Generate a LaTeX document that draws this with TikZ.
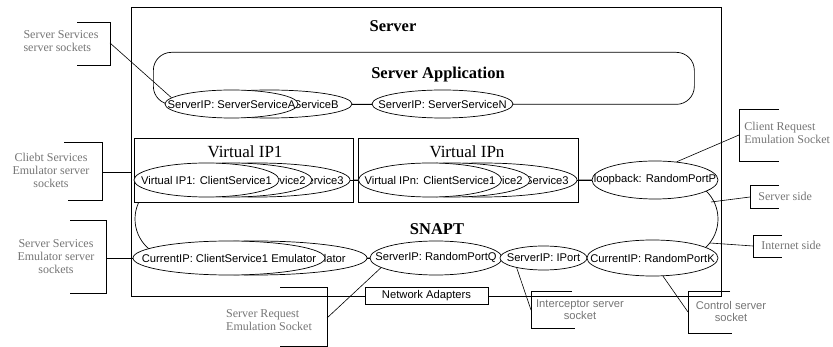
\documentclass[tikz,border=0pt]{standalone}
\usepackage{fontspec}
\setmainfont{Liberation Serif}
\setsansfont{Liberation Sans}
\usetikzlibrary{shapes.geometric,shapes.misc}
\definecolor{annot}{RGB}{118,118,118}
\begin{document}
\begin{tikzpicture}[x=1pt,y=-1pt, line width=0.7pt,
  sock/.style={draw, ellipse, fill=white, inner sep=0pt, minimum height=34pt},
  stxt/.style={font=\sffamily\fontsize{11.2}{13}\selectfont, inner sep=0pt},
  boldtitle/.style={font=\bfseries\fontsize{16.5}{18}\selectfont, inner sep=0pt},
  vtitle/.style={font=\fontsize{17}{19}\selectfont, inner sep=0pt},
  note/.style={text=annot, font=\fontsize{12}{13}\selectfont, inner sep=0pt},
  snote/.style={text=annot, font=\sffamily\fontsize{11.2}{12}\selectfont, inner sep=0pt, align=center},
  bracketline/.style={draw, line width=0.7pt},
  link/.style={draw, line width=0.6pt}]

\useasboundingbox (0,0) rectangle (833,347);
\fill[white] (0,0) rectangle (833,347);

% outer server frame
\node[draw, rectangle, inner sep=0pt, minimum width=590pt, minimum height=289pt, anchor=north west] (server) at (131,7) {};
\node[boldtitle] (servertitle) at (393,26) {Server};

% server application container
\node[draw, rectangle, rounded corners=18pt, inner sep=0pt, minimum width=541pt, minimum height=52pt, anchor=north west] (app) at (153,52) {};
\node[boldtitle] (apptitle) at (438,75) {Server Application};

% SNAPT container
\node[draw, rounded rectangle, inner sep=0pt, minimum width=583pt, minimum height=78pt] (snapt) at (426.5,219) {};
\node[boldtitle] (snapttitle) at (437,229) {SNAPT};

% virtual IP containers
\node[draw, fill=white, rectangle, inner sep=0pt, minimum width=219pt, minimum height=64pt, anchor=north west] (vip1) at (134,138) {};
\node[vtitle] (vip1title) at (245,152) {Virtual IP1};
\node[draw, fill=white, rectangle, inner sep=0pt, minimum width=220pt, minimum height=64pt, anchor=north west] (vipn) at (358,138) {};
\node[vtitle] (vipntitle) at (467,152) {Virtual IPn};

% server service sockets
\node[sock, minimum width=165pt, minimum height=28pt] (srvB) at (269.5,104) {};
\node[stxt, anchor=east] at (339,104) {ServerIP: ServerServiceB};
\node[sock, minimum width=133pt, minimum height=28pt] (srvA) at (231.5,104) {};
\node[stxt] at (srvA) {ServerIP: ServerServiceA};
\node[sock, minimum width=141pt, minimum height=28pt] (srvN) at (442.5,104) {};
\node[stxt] at (srvN) {ServerIP: ServerServiceN};

% client service emulators on Virtual IP1
\node[sock, minimum width=185pt] (v1c3) at (257.5,180) {};
\node[stxt, anchor=east] at (344,180) {Virtual IP1: ClientService3};
\node[sock, minimum width=162pt] (v1c2) at (231,180) {};
\node[stxt, anchor=east] at (306,180) {Virtual IP1: ClientService2};
\node[sock, minimum width=145pt] (v1c1) at (206.5,180) {};
\node[stxt] at (v1c1) {Virtual IP1: ClientService1};

% client service emulators on Virtual IPn
\node[sock, minimum width=190pt] (vnc3) at (482,180) {};
\node[stxt, anchor=east] at (569,180) {Virtual IPn: ClientService3};
\node[sock, minimum width=156pt] (vnc2) at (452,180) {};
\node[stxt, anchor=east] at (523,180) {Virtual IPn: ClientService2};
\node[sock, minimum width=143pt] (vnc1) at (430,180) {};
\node[stxt] at (vnc1) {Virtual IPn: ClientService1};

% loopback client request socket
\node[sock, minimum width=126pt, minimum height=38pt] (loop) at (655,180) {};
\node[stxt] at (loop) {loopback: RandomPortP};

% server service emulators and SNAPT sockets
\node[sock, minimum width=222pt] (emu2) at (256,258) {};
\node[stxt, anchor=east] at (346,258) {CurrentIP: ClientService2 Emulator};
\node[sock, minimum width=192pt] (emu1) at (229,258) {};
\node[stxt] at (emu1) {CurrentIP: ClientService1 Emulator};
\node[sock, minimum width=132pt] (portQ) at (436,258) {};
\node[stxt] at (portQ) {ServerIP: RandomPortQ};
\node[sock, minimum width=87pt, minimum height=24pt] (iport) at (543.5,258) {};
\node[stxt] at (iport) {ServerIP: IPort};
\node[sock, minimum width=131pt, minimum height=36pt] (portK) at (652.5,258) {};
\node[stxt] at (portK) {CurrentIP: RandomPortK};

% links between sockets
\draw[link] (srvB.east) -- (srvN.west);
\draw[link] (v1c3.east) -- (vnc1.west);
\draw[link] (vnc3.east) -- (loop.west);
\draw[link] (emu2.east) -- (portQ.west);

% network adapters on the frame's bottom edge
\node[draw, fill=white, rectangle, inner sep=0pt, minimum width=123pt, minimum height=17pt, stxt] (net) at (426.5,295.5) {Network Adapters};

% callouts
\draw[bracketline] (77,22) -- (110,22) -- (110,65) -- (77,65);
\node[note, align=left] (n1) at (61,41) {Server Services\\server sockets};
\coordinate (c1) at (110,43);
\draw[link] (c1) -- (srvA.174);

\draw[bracketline] (64,142) -- (102,142) -- (102,200) -- (68,200);
\node[note, align=center] (n2) at (51,170) {Cliebt Services\\Emulator server\\sockets};
\coordinate (c2) at (102,172);
\draw[link] (c2) -- (c2 -| server.west);

\draw[bracketline] (70,220) -- (106,220) -- (106,293) -- (70,293);
\node[note, align=center] (n3) at (56,257) {Server Services\\Emulator server\\sockets};
\coordinate (c3) at (106,258);
\draw[link] (c3) -- (emu1.west);

\draw[bracketline] (779,109) -- (739,109) -- (739,161) -- (779,161);
\node[note, align=left, anchor=west] (n4) at (744,133) {Client Request\\Emulation Socket};
\coordinate (c4) at (739,135);
\draw[link] (c4) -- (loop.40);

\draw[bracketline] (779,185) -- (750,185) -- (750,208) -- (779,208);
\node[note, anchor=west] (n5) at (758,196) {Server side};
\coordinate (c5) at (750,197);
\coordinate (snaptA) at (711,202);
\draw[link] (c5) -- (snaptA);

\draw[bracketline] (782,235) -- (753,235) -- (753,257) -- (782,257);
\node[note, anchor=west] (n6) at (761,245) {Internet side};
\coordinate (c6) at (753,246);
\coordinate (snaptB) at (710,243);
\draw[link] (c6) -- (snaptB);

\draw[bracketline] (572,291) -- (531,291) -- (531,328) -- (575,328);
\node[snote] (n7) at (580,310) {Interceptor server\\socket};
\coordinate (c7) at (531,310);
\draw[link] (c7) -- (iport.200);

\draw[bracketline] (730,291) -- (688,291) -- (688,333) -- (732,333);
\node[snote] (n8) at (731,311) {Control server\\socket};
\coordinate (c8) at (688,312);
\draw[link] (c8) -- (portK.300);

\draw[bracketline] (280,287) -- (327,287) -- (327,346) -- (280,346);
\node[note, align=left] (n9) at (269,320) {Server Request\\Emulation Socket};
\coordinate (c9) at (327,318);
\draw[link] (c9) -- (portQ.190);

\end{tikzpicture}
\end{document}
